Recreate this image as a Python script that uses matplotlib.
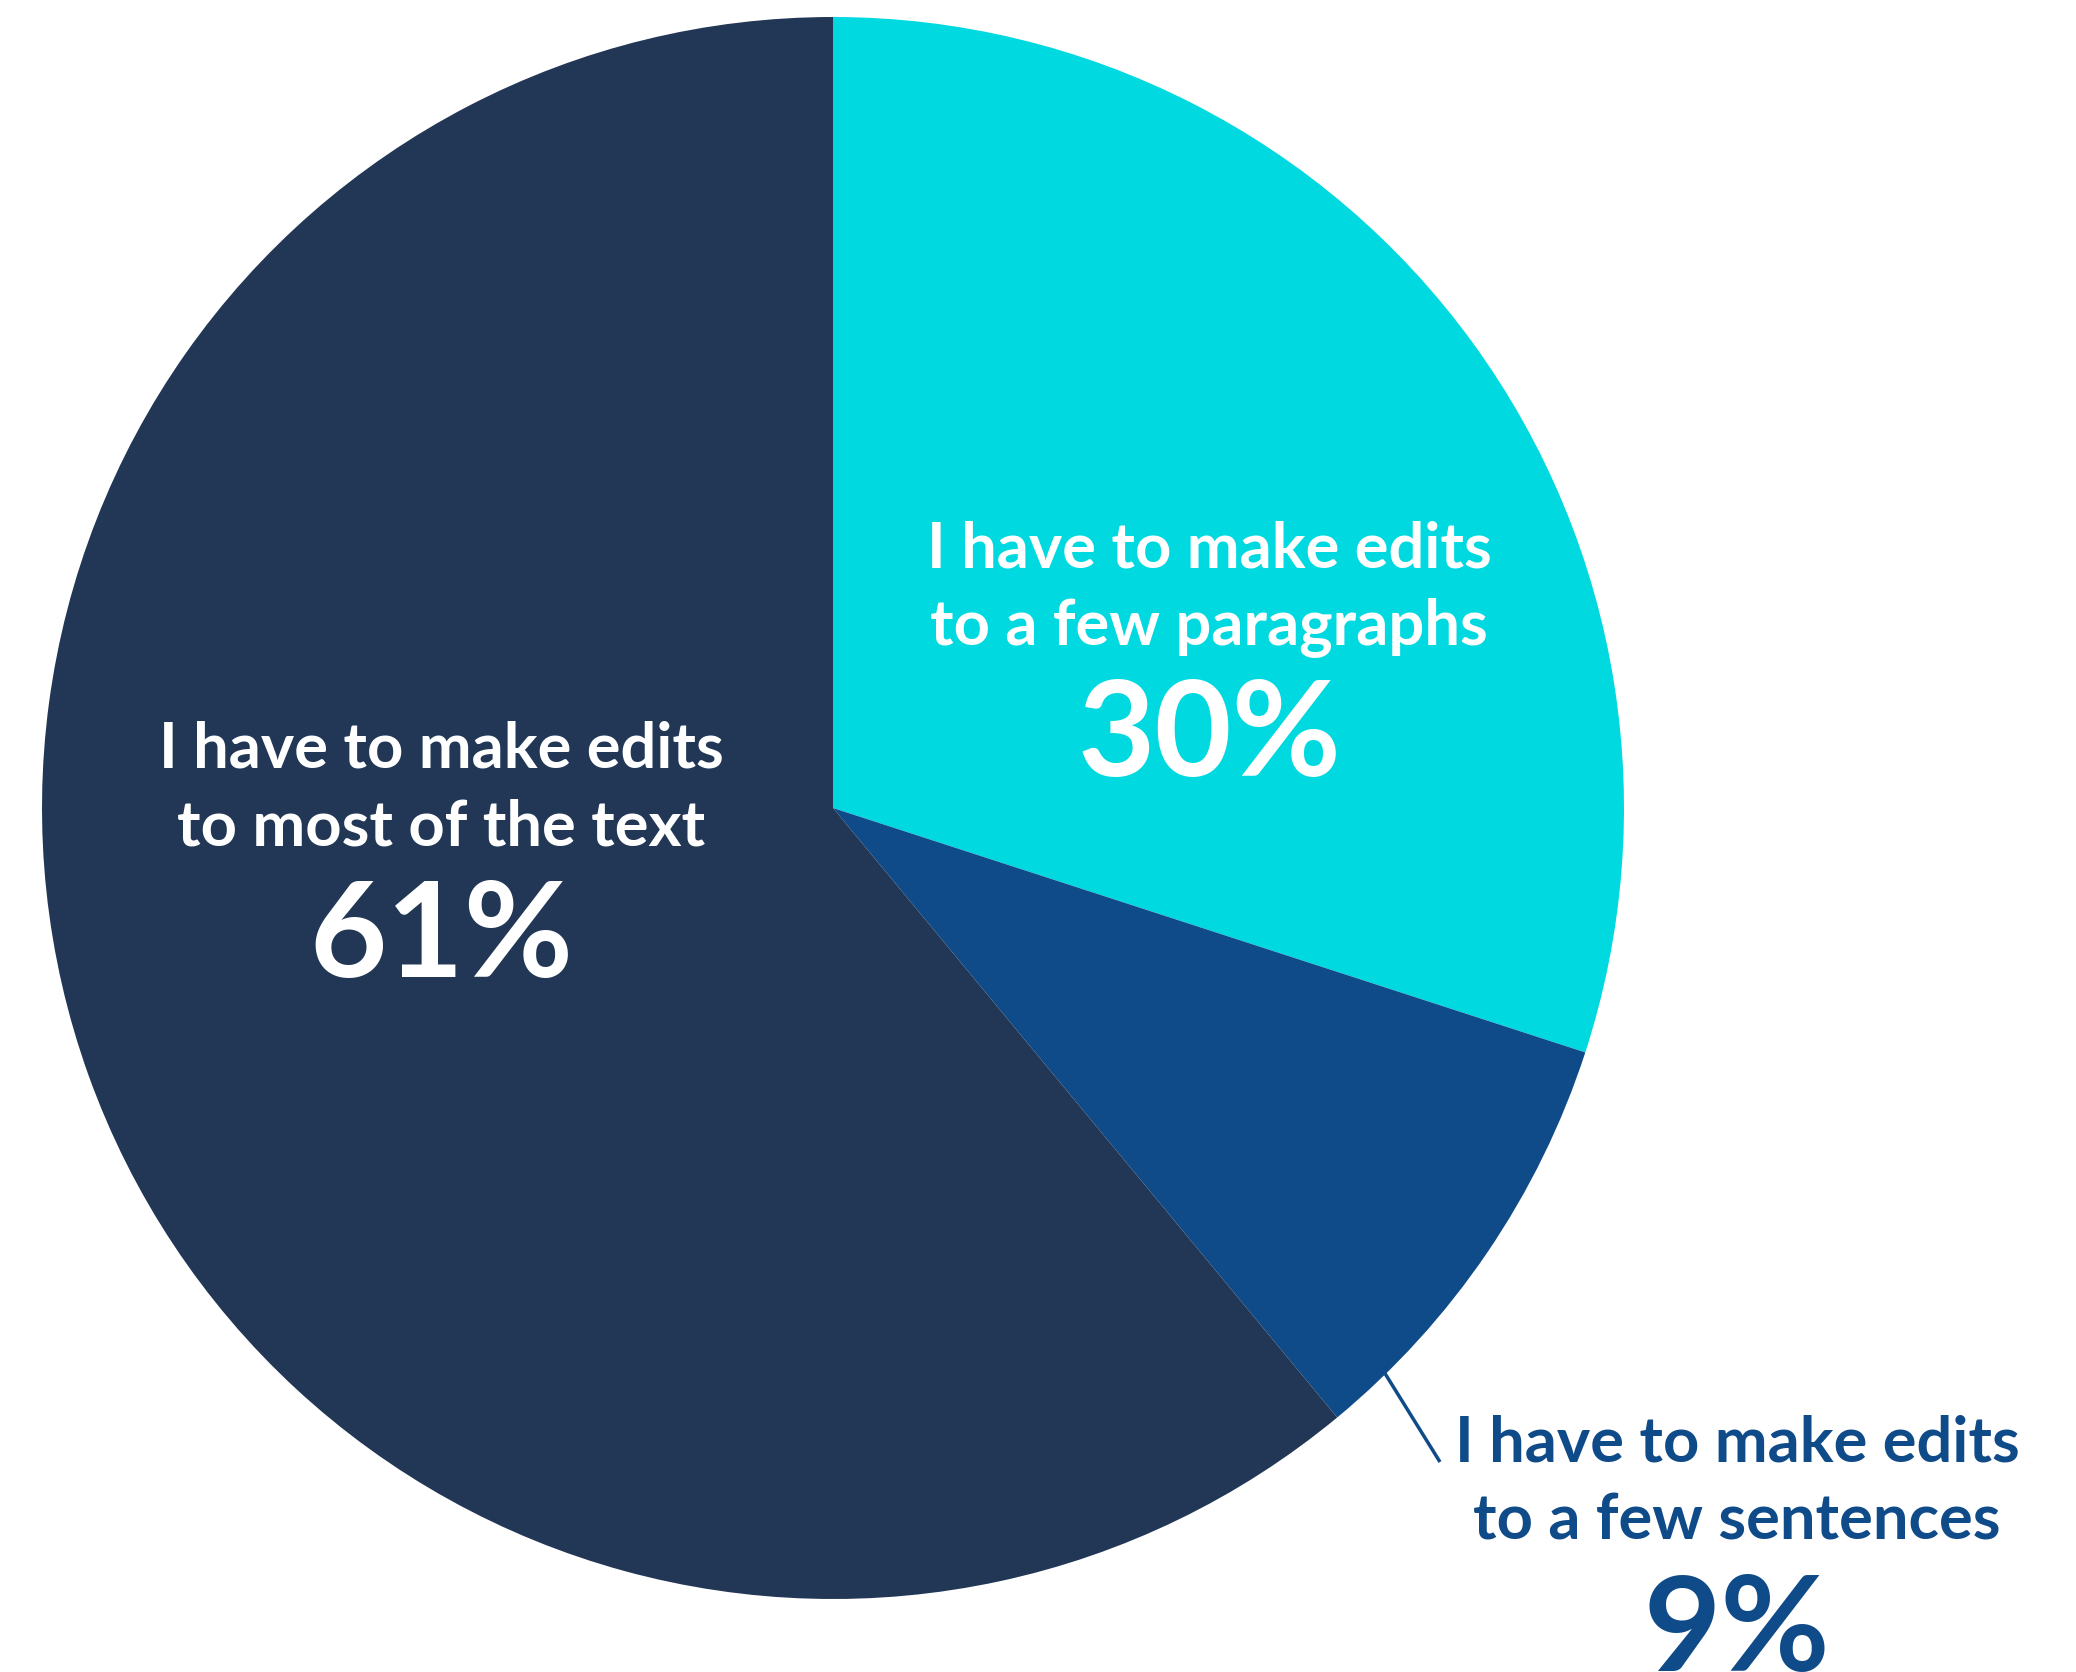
import numpy as np
import matplotlib.pyplot as plt

# survey answers, clockwise from 12 o'clock
labels = [['I have to make edits', 'to a few paragraphs'],
          ['I have to make edits', 'to a few sentences'],
          ['I have to make edits', 'to most of the text']]
shares = [30, 9, 61]
colors = ['#00D9E0', '#104B89', '#223756']

W, H = 2076, 1672
fig = plt.figure(figsize=(W / 100, H / 100), dpi=100)
ax = fig.add_axes([0, 0, 1, 1])

cx, cy, r = 833, H - 808, 791
wedges, _ = ax.pie(shares, colors=colors, startangle=90, counterclock=False,
                   center=(cx, cy), radius=r, wedgeprops=dict(linewidth=0))

ax.set_xlim(0, W)
ax.set_ylim(0, H)
ax.set_aspect('equal')
ax.axis('off')


def put_label(x, base, lines, pct, color):
    # two text lines plus the big percentage, baselines given from the top
    for i, line in enumerate(lines):
        ax.text(x, H - (base + 77 * i), line, color=color, fontsize=45.5,
                fontweight='bold', family='Lato', ha='center', va='baseline')
    ax.text(x, H - (base + 209), f'{pct}%', color=color, fontsize=96,
            fontweight='bold', family='Lato', ha='center', va='baseline')


put_label(1209, 567, labels[0], shares[0], 'white')
put_label(441, 768, labels[2], shares[2], 'white')
put_label(1737, 1462, labels[1], shares[1], colors[1])

# leader line from the small slice to its outside label
theta = np.deg2rad(90 - 360 * (shares[0] + shares[1] * 0.85) / 100)
x0, y0 = cx + (r - 10) * np.cos(theta), cy + (r - 10) * np.sin(theta)
ax.plot([x0, 1440], [y0, H - 1462], color=colors[1], lw=2.5,
        solid_capstyle='butt')

fig.savefig('out.png', dpi=100, facecolor='white')
